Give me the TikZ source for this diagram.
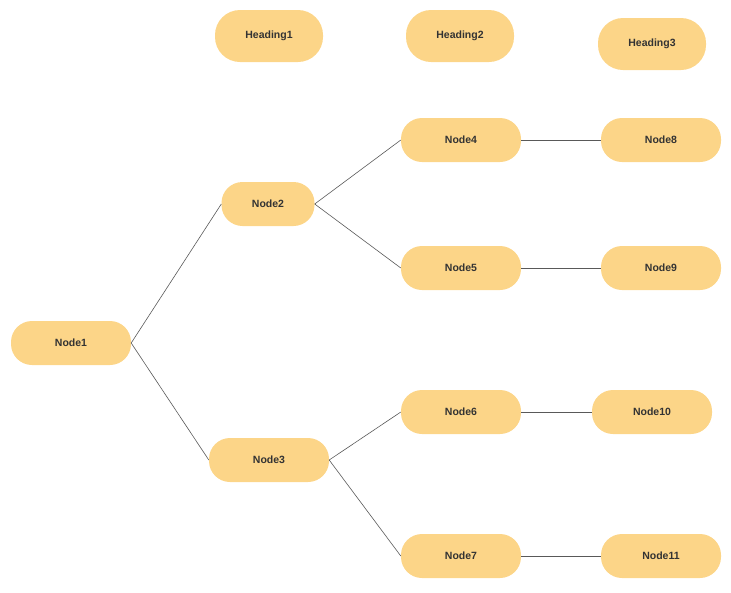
\documentclass[tikz,border=0pt]{standalone}
\usepackage{fontspec}
\setmainfont{Liberation Sans}
\definecolor{nodefill}{HTML}{FCD588}
\definecolor{labeltext}{HTML}{333333}
\tikzset{
	box/.style={draw=none, fill=nodefill, rounded corners=21pt, minimum height=44pt,
		minimum width=120pt, inner sep=0pt, font=\bfseries\fontsize{10.5}{12}\selectfont,
		text=labeltext},
	head/.style={box, minimum height=52pt, minimum width=108pt, rounded corners=25pt},
	link/.style={draw=black!65, line width=0.6pt}
}
\begin{document}
\begin{tikzpicture}[x=1pt,y=-1pt]
	\useasboundingbox (0,0) rectangle (731,592);
	\node[head] (heading1) at (269,36) {Heading1};
	\node[head] (heading2) at (460,36) {Heading2};
	\node[head] (heading3) at (652,44) {Heading3};

	\node[box] (node1) at (71,343) {Node1};
	\node[box, minimum width=93pt] (node2) at (268,204) {Node2};
	\node[box] (node3) at (269,460) {Node3};
	\node[box] (node4) at (461,140) {Node4};
	\node[box] (node5) at (461,268) {Node5};
	\node[box] (node6) at (461,412) {Node6};
	\node[box] (node7) at (461,556) {Node7};
	\node[box] (node8) at (661,140) {Node8};
	\node[box] (node9) at (661,268) {Node9};
	\node[box] (node10) at (652,412) {Node10};
	\node[box] (node11) at (661,556) {Node11};

	\draw[link] (node1.east) -- (node2.west);
	\draw[link] (node1.east) -- (node3.west);
	\draw[link] (node2.east) -- (node4.west);
	\draw[link] (node2.east) -- (node5.west);
	\draw[link] (node3.east) -- (node6.west);
	\draw[link] (node3.east) -- (node7.west);
	\draw[link] (node4.east) -- (node8.west);
	\draw[link] (node5.east) -- (node9.west);
	\draw[link] (node6.east) -- (node10.west);
	\draw[link] (node7.east) -- (node11.west);
\end{tikzpicture}
\end{document}
